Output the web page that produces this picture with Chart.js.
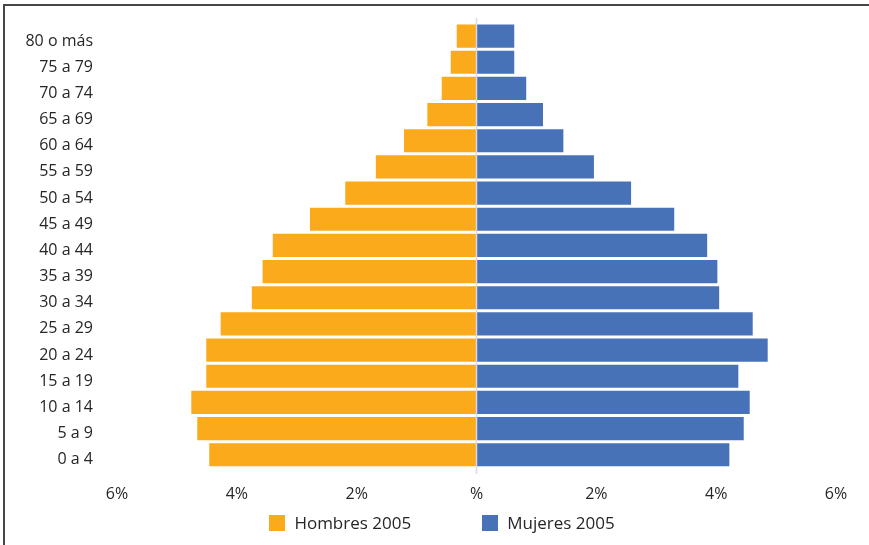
<!DOCTYPE html>
<html lang="es">
<head>
<meta charset="utf-8">
<title>Pirámide de población 2005</title>
<script src="https://cdn.jsdelivr.net/npm/chart.js@4.4.1/dist/chart.umd.min.js"></script>
<style>
  html, body { margin: 0; padding: 0; background: #fff; }
  #wrap { position: relative; width: 869px; height: 545px; overflow: hidden; }
  #frame { position: absolute; left: 3px; top: 4px; right: -10px; bottom: -10px;
           border-top: 2px solid #474747; border-left: 2px solid #474747; pointer-events: none; }
  #legend { position: absolute; left: 15px; right: 0; top: 511px; display: flex; justify-content: center;
            font: 17px "Open Sans", sans-serif; color: #262626; }
  #legend .item { display: flex; align-items: center; margin: 0 35.5px; }
  #legend .box { width: 16px; height: 16px; margin-right: 9px; }
</style>
</head>
<body>
<div id="wrap">
  <canvas id="pyramid" width="869" height="545"></canvas>
  <div id="frame"></div>
  <div id="legend"></div>
</div>
<script>
const ageGroups = ['80 o más', '75 a 79', '70 a 74', '65 a 69', '60 a 64', '55 a 59', '50 a 54',
  '45 a 49', '40 a 44', '35 a 39', '30 a 34', '25 a 29', '20 a 24', '15 a 19', '10 a 14', '5 a 9', '0 a 4'];

// share of total population, %
const men2005 = [0.33, 0.43, 0.58, 0.82, 1.21, 1.68, 2.19, 2.78, 3.40, 3.57, 3.75, 4.27, 4.51, 4.51, 4.76, 4.66, 4.46];
const women2005 = [0.63, 0.63, 0.83, 1.11, 1.45, 1.96, 2.58, 3.30, 3.85, 4.02, 4.05, 4.61, 4.86, 4.37, 4.56, 4.46, 4.22];

const xTicks = [-6, -4, -2, 0, 2, 4, 6];

const font = { family: '"Open Sans", sans-serif', size: 16 };
const textColor = '#262626';

// vertical axis line at 0%, running a little past the plot
const zeroLine = {
    id: 'zeroLine',
    afterDatasetsDraw(chart) {
        const { ctx, chartArea, scales } = chart;
        const x = scales.x.getPixelForValue(0);
        ctx.save();
        ctx.strokeStyle = '#d9d9d9';
        ctx.lineWidth = 1.5;
        ctx.beginPath();
        ctx.moveTo(x, chartArea.top - 5);
        ctx.lineTo(x, chartArea.bottom + 6);
        ctx.stroke();
        ctx.restore();
    },
};

const chart = new Chart(document.getElementById('pyramid'), {
    type: 'bar',
    data: {
        labels: ageGroups,
        datasets: [
            {
                label: 'Hombres 2005',
                data: men2005.map(v => -v),
                backgroundColor: '#fbaa1b',
            },
            {
                label: 'Mujeres 2005',
                data: women2005,
                backgroundColor: '#4872b8',
            },
        ],
    },
    plugins: [zeroLine],
    options: {
        indexAxis: 'y',
        responsive: false,
        animation: false,
        categoryPercentage: 0.885,
        barPercentage: 1,
        layout: { padding: { top: 23, right: 33, bottom: 24, left: 0 } },
        plugins: {
            legend: { display: false },
            tooltip: { enabled: false },
        },
        scales: {
            x: {
                stacked: true,
                min: -6,
                max: 6,
                afterBuildTicks: scale => { scale.ticks = xTicks.map(value => ({ value })); },
                border: { display: false },
                grid: { display: false, drawTicks: false },
                ticks: {
                    padding: 17,
                    font,
                    color: textColor,
                    maxRotation: 0,
                    callback: v => (v === 0 ? '%' : Math.abs(v) + '%'),
                },
            },
            y: {
                stacked: true,
                border: { display: false },
                grid: { display: false, drawTicks: false },
                // fixed label column; the tick padding should not push the plot down
                afterFit: scale => {
                    scale.width = 117;
                    scale.paddingTop = 0;
                    scale.paddingBottom = 0;
                },
                ticks: { padding: 24, labelOffset: 5, font, color: textColor },
            },
        },
    },
});

// legend built from the chart's own datasets
const legendEl = document.getElementById('legend');
chart.data.datasets.forEach(ds => {
    const item = document.createElement('div');
    item.className = 'item';
    const box = document.createElement('span');
    box.className = 'box';
    box.style.background = ds.backgroundColor;
    const text = document.createElement('span');
    text.textContent = ds.label;
    item.appendChild(box);
    item.appendChild(text);
    legendEl.appendChild(item);
});
</script>
</body>
</html>
